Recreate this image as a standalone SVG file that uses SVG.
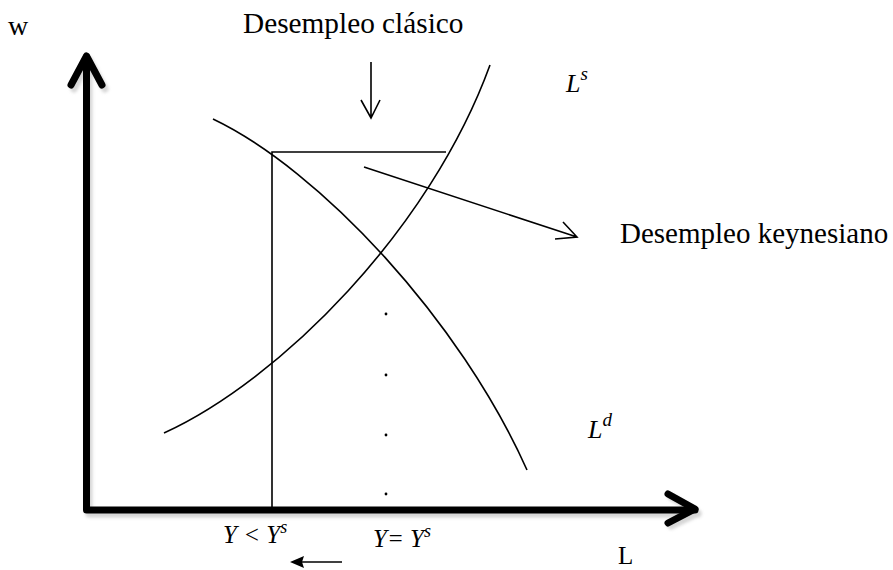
<svg xmlns="http://www.w3.org/2000/svg" width="893" height="570" viewBox="0 0 893 570">
<style>
.ax{fill:none;stroke:#000;stroke-width:7;stroke-linecap:round;stroke-linejoin:round}
.sh{fill:none;stroke:#bbb;stroke-width:7;stroke-linecap:round;stroke-linejoin:round}
.ln{fill:none;stroke:#000;stroke-width:1.6}
.t{font-family:"Liberation Serif","Times New Roman",serif;fill:#000}
.m{font-family:"Liberation Serif","Times New Roman",serif;font-style:italic;fill:#000}
</style>
<defs>
<filter id="blur" x="-10%" y="-10%" width="120%" height="120%"><feGaussianBlur stdDeviation="1.5"/></filter>
</defs>
<g id="axes">
<g filter="url(#blur)" opacity="0.6">
<path class="sh" d="M89,60 V514 H698"/>
<path class="sh" d="M74,89 L89,60 L105,89"/>
<path class="sh" d="M671,497 L698,513 L671,526"/>
</g>
<path class="ax" d="M86.5,57 V510 H695"/>
<path class="ax" d="M71,85 L86.5,56 L102,85"/>
<path class="ax" d="M668,494 L695,509 L668,523"/>
</g>
<g id="Ls-curve"><path class="ln" d="M164,433 C280,380 430,230 490,65"/></g>
<g id="Ld-curve"><path class="ln" d="M213,119 C320,170 460,320 527,470"/></g>
<g id="connectors">
<path class="ln" d="M272,510 V152 H446"/>
<path class="ln" d="M371,62 V117 M361,100 L371,118 L380,100"/>
<path class="ln" d="M364,167 L577,237 M555,239 L577,237 L563,222"/>
<path class="ln" d="M342,562 H298"/>
<path d="M290,562 L304,556 L302,562 L304,568 Z" fill="#000"/>
</g>
<g id="dots" fill="#000">
<circle cx="386" cy="314" r="1.4"/>
<circle cx="386" cy="375" r="1.4"/>
<circle cx="386" cy="435" r="1.4"/>
<circle cx="386" cy="494" r="1.4"/>
</g>
<g id="labels">
<text class="t" x="8" y="35" font-size="28">w</text>
<text class="t" x="243" y="33" font-size="29.3">Desempleo clásico</text>
<text class="t" x="620" y="243" font-size="29">Desempleo keynesiano</text>
<text class="t" x="618" y="564" font-size="25">L</text>
<text class="m" x="566" y="92" font-size="26">L<tspan font-size="19" dy="-12">s</tspan></text>
<text class="m" x="588" y="438" font-size="26">L<tspan font-size="19" dy="-12">d</tspan></text>
<text class="m" x="223" y="543" font-size="25">Y &lt; Y<tspan font-size="18" dy="-10">s</tspan></text>
<text class="m" x="373" y="547" font-size="25">Y= Y<tspan font-size="18" dy="-10">s</tspan></text>
</g>
</svg>
